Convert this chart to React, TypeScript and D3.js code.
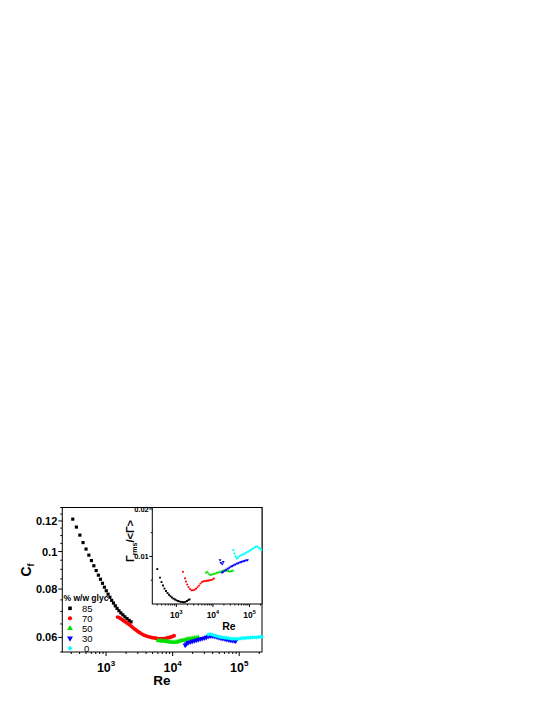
import React from 'react';
import * as d3 from 'd3';

// main panel: friction coefficient Cf against Re, one list pair per glycerol fraction
const re85 = [316, 358, 404, 451, 500, 551, 603, 655, 710, 766, 824, 883, 943, 1007, 1072, 1141, 1214, 1292, 1375, 1463, 1563, 1670, 1789, 1918, 2062, 2218, 2376];
const cf85 = [0.1213, 0.1157, 0.1103, 0.1055, 0.1015, 0.0979, 0.0948, 0.0919, 0.0893, 0.0869, 0.0848, 0.0828, 0.0809, 0.0792, 0.0776, 0.0762, 0.0748, 0.0736, 0.0724, 0.0713, 0.0703, 0.0694, 0.0686, 0.0678, 0.0671, 0.0664, 0.0658];

const re70 = [1489, 1569, 1652, 1740, 1833, 1931, 2034, 2142, 2256, 2376, 2503, 2637, 2777, 2925, 3081, 3246, 3478, 3728, 3996, 4281, 4588, 4918, 5270, 5648, 6053, 6486, 6953, 7451, 7986, 8557, 9014, 9493, 10000, 10530];
const cf70 = [0.0677, 0.0675, 0.0671, 0.0667, 0.0663, 0.0659, 0.0655, 0.0651, 0.0647, 0.0642, 0.0637, 0.0632, 0.0628, 0.0624, 0.062, 0.0616, 0.0612, 0.0608, 0.0605, 0.0603, 0.0601, 0.0599, 0.0598, 0.0597, 0.0596, 0.0596, 0.0596, 0.0596, 0.0597, 0.0599, 0.06, 0.0602, 0.0604, 0.0606];

const re50 = [6053, 6486, 6953, 7451, 7986, 8557, 9171, 9829, 10530, 11290, 12100, 12970, 13900, 14890, 15960, 17110, 18330, 19650, 21060, 22570, 24190];
const cf50 = [0.0589, 0.0588, 0.0587, 0.0587, 0.0586, 0.0585, 0.0584, 0.0583, 0.0583, 0.0583, 0.0585, 0.0587, 0.0589, 0.059, 0.0592, 0.0594, 0.0595, 0.0596, 0.0598, 0.0598, 0.0599];

const re30 = [15420, 16240, 17110, 18330, 19650, 21060, 22570, 24190, 25920, 27770, 29760, 31900, 34180, 36640, 39260, 42080, 45100, 48330, 51800, 55510, 59490, 63750, 68320, 73220, 78470, 84100, 88590];
const cf30 = [0.0573, 0.0578, 0.0582, 0.0584, 0.0586, 0.0588, 0.059, 0.0592, 0.0594, 0.0596, 0.0598, 0.06, 0.0603, 0.0605, 0.0605, 0.0604, 0.0602, 0.06, 0.0598, 0.0596, 0.0595, 0.0593, 0.0592, 0.059, 0.0589, 0.0588, 0.0587];

const re0 = [34180, 36640, 39260, 42080, 45100, 48330, 51800, 55510, 59490, 63750, 68320, 73220, 78470, 84100, 90140, 96600, 103500, 110900, 118900, 127400, 136600, 146400, 156900, 168100, 180100, 193100, 206900, 217900];
const cf0 = [0.061, 0.0612, 0.061, 0.0607, 0.0605, 0.0603, 0.0601, 0.06, 0.0599, 0.0598, 0.0597, 0.0596, 0.0595, 0.0595, 0.0595, 0.0595, 0.0596, 0.0597, 0.0597, 0.0598, 0.0599, 0.0599, 0.06, 0.06, 0.06, 0.0601, 0.0602, 0.0602];

// inset: Gamma_rms / <Gamma> against Re
const inRe85 = [301, 357, 393, 432, 474, 521, 573, 630, 692, 760, 836, 918, 1009, 1110, 1219, 1340, 1473, 1619, 1779, 1955, 2149, 2289];
const inG85 = [0.00735, 0.00556, 0.00462, 0.00388, 0.00325, 0.00273, 0.00231, 0.00195, 0.00164, 0.00136, 0.00113, 0.00095, 0.00078, 0.00063, 0.00053, 0.00044, 0.0004, 0.00038, 0.00046, 0.00063, 0.00084, 0.00099];

const inRe70 = [1520, 1724, 1836, 1980, 2149, 2362, 2596, 2853, 3136, 3446, 3787, 4163, 4575, 5028, 5526, 6073, 6674, 7335, 8061, 8860, 9739, 10700];
const inG70 = [0.00678, 0.0054, 0.00472, 0.00409, 0.00357, 0.00315, 0.0029, 0.00288, 0.003, 0.00321, 0.00351, 0.00388, 0.0043, 0.00462, 0.00477, 0.00483, 0.00487, 0.00491, 0.00498, 0.00504, 0.00514, 0.00535];

const inRe50 = [6470, 7108, 7812, 8586, 9438, 10370, 11400, 12530, 13770, 15130, 16630, 18280, 20090, 22080, 24270, 26670, 29310, 32210, 35400];
const inG50 = [0.00661, 0.00672, 0.0063, 0.00609, 0.00619, 0.0063, 0.0064, 0.00651, 0.00661, 0.00672, 0.00682, 0.00693, 0.00703, 0.00708, 0.00703, 0.00693, 0.00682, 0.00693, 0.00703];

const inRe30 = [15620, 16630, 18050, 19230, 17720, 19470, 21400, 23520, 25850, 28410, 31220, 34310, 37710, 41450, 45550, 50060, 55020, 60460, 66450, 73030, 80270, 88220];
const inG30 = [0.00924, 0.00867, 0.0084, 0.00888, 0.00661, 0.00682, 0.00703, 0.00724, 0.00745, 0.00766, 0.00787, 0.00804, 0.00819, 0.00834, 0.0085, 0.00861, 0.00876, 0.00886, 0.00899, 0.00907, 0.00918, 0.00924];

const inRe0 = [36080, 38920, 41450, 44700, 48500, 53330, 58600, 64420, 70780, 77800, 85510, 93960, 103300, 113500, 124700, 137100, 150700, 165600, 182000, 200000, 213000];
const inG0 = [0.01134, 0.0106, 0.00997, 0.00959, 0.00976, 0.01004, 0.01025, 0.01039, 0.01054, 0.01071, 0.01088, 0.01104, 0.01123, 0.01144, 0.01165, 0.01186, 0.01207, 0.01207, 0.0118, 0.01155, 0.01138];

const glycLabels = ['85', '70', '50', '30', '0'];
const cfTicks = [0.06, 0.08, 0.1, 0.12];
const gTicks = [0.01, 0.02];
const reTicks = [1e3, 1e4, 1e5];

const font = 'Liberation Sans, Arial, Helvetica, sans-serif';
const main = { left: 62.3, right: 262, top: 507.5, bottom: 652 };
const inset = { left: 152.3, right: 262, top: 507.5, bottom: 604 };

const series = [
  { label: glycLabels[0], color: '#000000', kind: 'square', re: re85, cf: cf85, ire: inRe85, ig: inG85 },
  { label: glycLabels[1], color: '#ff0000', kind: 'circle', re: re70, cf: cf70, ire: inRe70, ig: inG70 },
  { label: glycLabels[2], color: '#00e000', kind: 'up', re: re50, cf: cf50, ire: inRe50, ig: inG50 },
  { label: glycLabels[3], color: '#0000ff', kind: 'down', re: re30, cf: cf30, ire: inRe30, ig: inG30 },
  { label: glycLabels[4], color: '#00ffff', kind: 'diamond', re: re0, cf: cf0, ire: inRe0, ig: inG0 },
];

function marker(kind: string, area: number) {
  const type = kind === 'square' || kind === 'diamond' ? d3.symbolSquare
    : kind === 'circle' ? d3.symbolCircle : d3.symbolTriangle;
  return d3.symbol().type(type).size(area)() as string;
}

function rot(kind: string) {
  if (kind === 'down') return ' rotate(180)';
  if (kind === 'diamond') return ' rotate(45)';
  return '';
}

function logMinors(lo: number, hi: number) {
  const out: number[] = [];
  for (let e = 2; e <= 5; e++) {
    for (let m = 2; m <= 9; m++) {
      const v = m * Math.pow(10, e);
      if (v >= lo && v <= hi) out.push(v);
    }
  }
  return out;
}

const App = () => {
  const x = d3.scaleLog().domain([220, 2.2e5]).range([main.left, main.right]);
  const y = d3.scaleLog().domain([0.055, 0.13]).range([main.bottom, main.top]);
  const xi = d3.scaleLog().domain([220, 2.2e5]).range([inset.left, inset.right]);
  const yi = d3.scaleLinear().domain([0, 0.0203]).range([inset.bottom, inset.top]);

  const cfMinor = d3.range(0.055, 0.1301, 0.005).filter(v => !cfTicks.some(t => Math.abs(t - v) < 1e-6));
  const gMinor = [0.005, 0.015];
  const reMinor = logMinors(220, 2.2e5);

  const mainArea: Record<string, number> = { square: 10, circle: 11, up: 12, down: 12, diamond: 9 };

  return (
    <svg width={545} height={705} style={{ position: 'absolute', left: 0, top: 0 }} fontFamily={font}>
      <rect x={0} y={0} width={545} height={705} fill="#fff" />

      {/* main frame */}
      <rect x={main.left} y={main.top} width={main.right - main.left} height={main.bottom - main.top}
        fill="none" stroke="#000" strokeWidth={1} />

      {/* main y axis */}
      {cfTicks.map(t => (
        <g key={'cy' + t}>
          <line x1={main.left - 4} x2={main.left} y1={y(t)} y2={y(t)} stroke="#000" />
          <text x={main.left - 5} y={y(t)} dy="0.36em" textAnchor="end" fontSize={11} fontWeight="bold">{String(t)}</text>
        </g>
      ))}
      {cfMinor.map(t => (
        <line key={'cym' + t} x1={main.left - 2} x2={main.left} y1={y(t)} y2={y(t)} stroke="#000" />
      ))}

      {/* main x axis */}
      {reTicks.map(t => (
        <g key={'rx' + t}>
          <line x1={x(t)} x2={x(t)} y1={main.bottom} y2={main.bottom + 4} stroke="#000" />
          <text x={x(t)} y={671.5} textAnchor="middle" fontSize={12.5} fontWeight="bold">
            10<tspan fontSize={8} dy={-5.5}>{Math.round(Math.log10(t))}</tspan>
          </text>
        </g>
      ))}
      {reMinor.map(t => (
        <line key={'rxm' + t} x1={x(t)} x2={x(t)} y1={main.bottom} y2={main.bottom + 2} stroke="#000" />
      ))}

      <text x={162} y={685} textAnchor="middle" fontSize={13.5} fontWeight="bold">Re</text>
      <text transform="translate(31,570) rotate(-90)" textAnchor="middle" fontSize={14} fontWeight="bold">
        C<tspan fontSize={9} dy={3}>f</tspan>
      </text>

      {/* main markers */}
      {series.map(s => (
        <g key={'m' + s.label} fill={s.color}>
          {s.re.map((r, i) => (
            <path key={i} d={marker(s.kind, mainArea[s.kind])}
              transform={`translate(${x(r)},${y(s.cf[i])})${rot(s.kind)}`} />
          ))}
        </g>
      ))}

      {/* legend */}
      <text x={63.5} y={600.5} fontSize={8.5} fontWeight="bold">% w/w glyc</text>
      {series.map((s, i) => (
        <g key={'lg' + s.label} transform={`translate(0,${608.3 + i * 10})`}>
          <path d={marker(s.kind, mainArea[s.kind] + 3)} fill={s.color} transform={`translate(70,0)${rot(s.kind)}`} />
          <text x={s.label.length === 1 ? 84 : 82} y={3.3} fontSize={9.5}>{s.label}</text>
        </g>
      ))}

      {/* inset */}
      <rect x={inset.left} y={inset.top} width={inset.right - inset.left} height={inset.bottom - inset.top}
        fill="#fff" stroke="#000" strokeWidth={1} />
      {gTicks.map(t => (
        <g key={'gy' + t}>
          <line x1={inset.left - 3} x2={inset.left} y1={yi(t)} y2={yi(t)} stroke="#000" />
          <text x={inset.left - 3.5} y={yi(t)} dy="0.36em" textAnchor="end" fontSize={7.5} fontWeight="bold">{t.toFixed(2)}</text>
        </g>
      ))}
      {gMinor.map(t => (
        <line key={'gym' + t} x1={inset.left - 1.5} x2={inset.left} y1={yi(t)} y2={yi(t)} stroke="#000" />
      ))}
      {reTicks.map(t => (
        <g key={'ix' + t}>
          <line x1={xi(t)} x2={xi(t)} y1={inset.bottom} y2={inset.bottom + 3} stroke="#000" />
          <text x={xi(t)} y={617.5} textAnchor="middle" fontSize={8.5} fontWeight="bold">
            10<tspan fontSize={5.5} dy={-3.5}>{Math.round(Math.log10(t))}</tspan>
          </text>
        </g>
      ))}
      {reMinor.map(t => (
        <line key={'ixm' + t} x1={xi(t)} x2={xi(t)} y1={inset.bottom} y2={inset.bottom + 1.5} stroke="#000" />
      ))}
      <text x={229} y={630} textAnchor="middle" fontSize={10.5} fontWeight="bold">Re</text>
      <text transform="translate(134,541) rotate(-90)" textAnchor="middle" fontSize={11} fontWeight="bold">
        Γ<tspan fontSize={7} dy={2.5}>rms</tspan><tspan dy={-2.5}>/&lt;Γ&gt;</tspan>
      </text>

      {series.map(s => (
        <g key={'i' + s.label} fill={s.color}>
          {s.ire.map((r, i) => (
            <path key={i} d={marker(s.kind, 3.5)}
              transform={`translate(${xi(r)},${yi(s.ig[i])})${rot(s.kind)}`} />
          ))}
        </g>
      ))}
    </svg>
  );
};

export default App;
